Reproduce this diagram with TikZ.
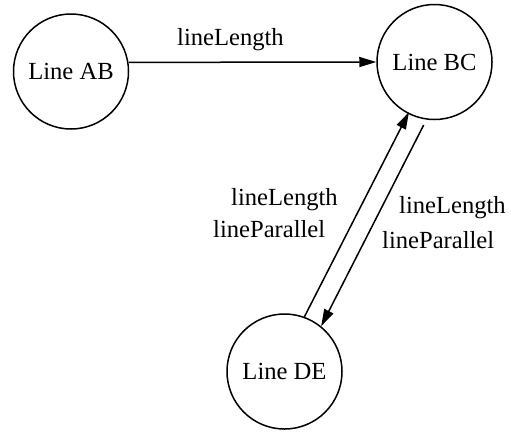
\documentclass[tikz,border=0pt]{standalone}
\usepackage{fontspec}
\setmainfont{Liberation Serif}
\usetikzlibrary{arrows.meta}
\begin{document}
\begin{tikzpicture}[x=1pt,y=-1pt,
  state/.style={draw, circle, line width=1.5pt, minimum size=115pt, inner sep=0pt,
    font=\fontsize{24.6}{29}\selectfont},
  lbl/.style={inner sep=0pt, anchor=base west, font=\fontsize{24.6}{29}\selectfont},
  edge/.style={line width=1.5pt, -{Triangle[length=17pt,width=10pt]}}]
  \useasboundingbox (0,0) rectangle (511,432);

  % states
  \node[state] (AB) at (71,71.5) {Line AB};
  \node[state] (BC) at (434.5,62) {Line BC};
  \node[state] (DE) at (284.5,371.5) {Line DE};

  % transitions
  \draw[edge] (AB.9.5) -- (BC.west);
  \draw[edge, shorten >=-2pt] (DE.70.9) -- (BC.243.4);
  \draw[edge, shorten <=6pt] (BC.262.3) -- (DE.51.4);

  % transition labels
  \node[lbl] (lAB) at (177,45) {lineLength};
  \node[lbl] (lUp1) at (231,205) {lineLength};
  \node[lbl] (lUp2) at (213,237) {lineParallel};
  \node[lbl] (lDn1) at (399,213) {lineLength};
  \node[lbl] (lDn2) at (382,248) {lineParallel};
\end{tikzpicture}
\end{document}
